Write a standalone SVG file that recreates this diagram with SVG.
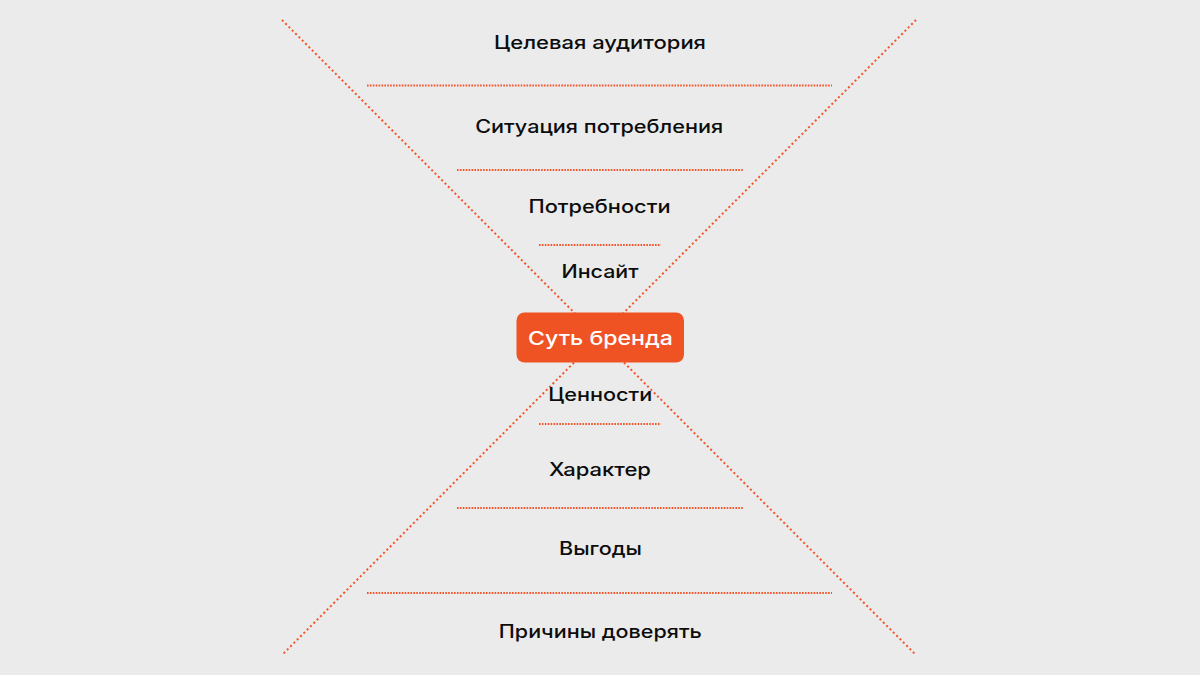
<svg xmlns="http://www.w3.org/2000/svg" width="1200" height="675" viewBox="0 0 1200 675">
<style>
.dot{stroke:#F4542A;stroke-width:1.9;stroke-dasharray:1.6 1.3;fill:none}
.diag{stroke:#F4542A;stroke-width:2;stroke-dasharray:2 2.7;fill:none}
.lbl{font-family:Inter,"Noto Sans",sans-serif;font-weight:500;font-size:18px;fill:#0d0d0d;text-anchor:middle}
.core{font-family:Inter,"Noto Sans",sans-serif;font-weight:500;font-size:18.5px;fill:#fff;text-anchor:middle}
</style>
<rect width="1200" height="675" fill="#EBEBEB"/>
<g id="connectors">
<line class="diag" x1="282" y1="20" x2="916" y2="655"/>
<line class="diag" x1="916" y1="20" x2="282" y2="655"/>
<line class="dot" x1="367" y1="85.5" x2="832" y2="85.5"/>
<line class="dot" x1="457" y1="170" x2="743" y2="170"/>
<line class="dot" x1="539" y1="245" x2="661" y2="245"/>
<line class="dot" x1="539" y1="424" x2="661" y2="424"/>
<line class="dot" x1="457" y1="508" x2="743" y2="508"/>
<line class="dot" x1="367" y1="593" x2="832" y2="593"/>
</g>
<g id="n-audience"><text class="lbl" x="600" y="49.3" textLength="212" lengthAdjust="spacingAndGlyphs">Целевая аудитория</text></g>
<g id="n-situation"><text class="lbl" x="599.2" y="132.7" textLength="248" lengthAdjust="spacingAndGlyphs">Ситуация потребления</text></g>
<g id="n-needs"><text class="lbl" x="599.5" y="212.7" textLength="142" lengthAdjust="spacingAndGlyphs">Потребности</text></g>
<g id="n-insight"><text class="lbl" x="600" y="278.3" textLength="77" lengthAdjust="spacingAndGlyphs">Инсайт</text></g>
<g id="n-core"><rect x="516.5" y="312.5" width="167.5" height="50" rx="8" fill="#F05323"/><text class="core" x="600.5" y="345" textLength="145" lengthAdjust="spacingAndGlyphs">Суть бренда</text></g>
<g id="n-values"><text class="lbl" x="600.3" y="400.7" textLength="104" lengthAdjust="spacingAndGlyphs">Ценности</text></g>
<g id="n-character"><text class="lbl" x="600" y="475.8" textLength="102" lengthAdjust="spacingAndGlyphs">Характер</text></g>
<g id="n-benefits"><text class="lbl" x="600.5" y="555" textLength="83" lengthAdjust="spacingAndGlyphs">Выгоды</text></g>
<g id="n-trust"><text class="lbl" x="600.3" y="638.3" textLength="203" lengthAdjust="spacingAndGlyphs">Причины доверять</text></g>
</svg>
